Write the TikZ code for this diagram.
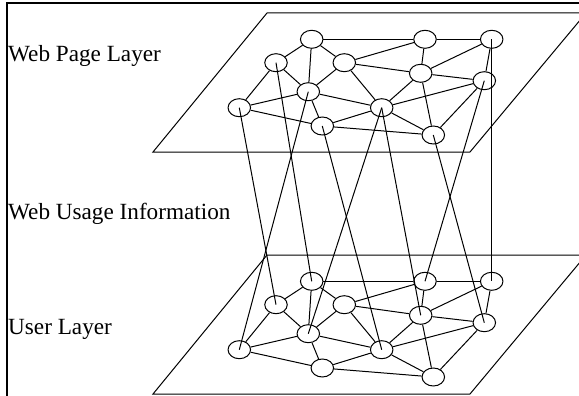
\documentclass[tikz,border=0pt]{standalone}
\usepackage{fontspec}
\setmainfont{Liberation Serif}
\usetikzlibrary{shapes.geometric}
\begin{document}
\begin{tikzpicture}[x=1pt,y=-1pt,
  vertex/.style={draw,ellipse,minimum width=22.5pt,minimum height=18pt,inner sep=0pt,line width=1pt,fill=white},
  link/.style={line width=1pt},
  plane/.style={line width=1pt},
  frameline/.style={line width=1.7pt},
  layerlabel/.style={anchor=base west,inner sep=0pt,font=\fontsize{23.2}{27}\selectfont}]
\useasboundingbox (0,0) rectangle (579,396);
\draw[frameline] (7,396) -- (7,3) -- (579,3);

\node[layerlabel] (lp) at (8,61.5) {Web Page Layer};
\node[layerlabel] (lu) at (8,219.5) {Web Usage Information};
\node[layerlabel] (ll) at (8,334) {User Layer};

% two copies of the same graph, one per layer
\foreach \L/\dy in {t/0,b/242}{
  \begin{scope}[yshift=-\dy pt]
    \draw[plane] (153,152) -- (470,152) -- (586,13) -- (267,13) -- cycle;
    \node[vertex] (\L1) at (311.7,39.3) {};
    \node[vertex] (\L2) at (425,39.3) {};
    \node[vertex] (\L3) at (491.7,39.3) {};
    \node[vertex] (\L4) at (276,62.7) {};
    \node[vertex] (\L5) at (344.3,62.7) {};
    \node[vertex] (\L6) at (420.7,73.3) {};
    \node[vertex] (\L7) at (484.3,80.7) {};
    \node[vertex] (\L8) at (308.3,91.7) {};
    \node[vertex] (\L9) at (239.3,107.7) {};
    \node[vertex] (\L10) at (381.7,107.7) {};
    \node[vertex] (\L11) at (322.3,126) {};
    \node[vertex] (\L12) at (433.3,135) {};
    \foreach \a/\b in {1/2,2/3,1/4,1/8,1/5,4/8,4/9,5/8,5/2,5/6,5/10,2/6,6/3,6/7,6/10,6/12,3/7,7/10,7/12,8/9,8/10,8/11,9/11,11/10,11/12,10/12}
      \draw[link] (\L\a) -- (\L\b);
  \end{scope}
}

% links between the two layers
\foreach \a/\b in {9/4,4/1,8/9,11/10,10/8,10/6,12/7,7/2,3/3}
  \draw[link] (t\a.center) -- (b\b.center);
\end{tikzpicture}
\end{document}
